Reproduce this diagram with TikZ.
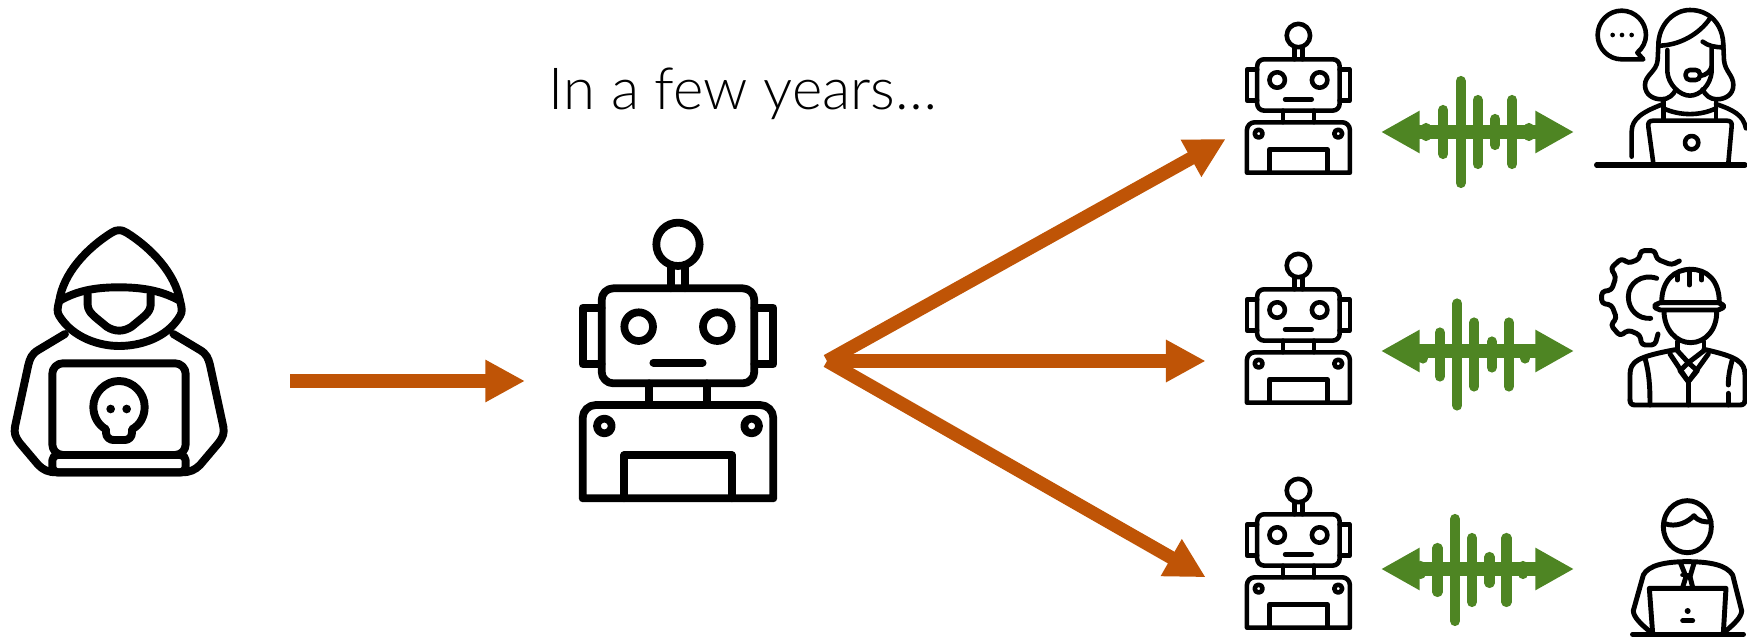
\documentclass[tikz,border=0pt]{standalone}
\usepackage{fontspec}
\setmainfont{Lato}[UprightFont=* Light]
\usetikzlibrary{arrows.meta}
\definecolor{attackorange}{RGB}{191, 84, 6}
\definecolor{voicegreen}{RGB}{78, 133, 35}
\tikzset{
  pics/robot/.style={code={
    \begin{scope}[line width=#1, line join=round, line cap=round]
    % Antenna and head
    \draw (354,103) circle (65);
    \draw (332,170) -- (332,235) (376,170) -- (376,235);
    \draw[rounded corners=1.5*#1] (125,235) rectangle (583,520);
    \draw (125,293) -- (68,293) -- (68,463) -- (125,463);
    \draw (583,293) -- (640,293) -- (640,463) -- (583,463);
    \draw (236,350) circle (43);
    \draw (472,350) circle (43);
    \draw (280,458) -- (428,458);
    % Neck and body
    \draw (268,520) -- (268,585) (440,520) -- (440,585);
    \draw (68,865) [rounded corners=1.7*#1] -- (68,585) -- (640,585) [sharp corners] -- (640,865) -- cycle;
    \draw (133,648) circle (22);
    \draw (575,648) circle (22);
    \draw (193,865) -- (193,735) -- (515,735) -- (515,865);
    \end{scope}
  }},
  pics/hackerman/.style={code={
    \begin{scope}[line width=2.25pt, line join=round, line cap=round]
    % Hood
    \draw (178,272) .. controls (190,190) and (260,115) .. (335,68)
      .. controls (350,58) and (365,58) .. (380,68)
      .. controls (455,115) and (525,190) .. (540,272);
    \draw (183,270) .. controls (240,238) and (300,232) .. (357,232)
      .. controls (420,232) and (480,240) .. (535,270);
    \draw (178,272) .. controls (172,295) and (170,305) .. (178,318)
      .. controls (220,385) and (300,408) .. (357,408)
      .. controls (420,408) and (500,385) .. (540,318)
      .. controls (548,305) and (546,295) .. (540,272);
    \draw (263,252) -- (263,285) .. controls (265,310) and (285,320) .. (320,350)
      .. controls (345,366) and (370,366) .. (395,350)
      .. controls (430,320) and (450,310) .. (452,285) -- (452,252);
    % Body
    \draw (195,372) -- (115,420) .. controls (95,432) and (90,445) .. (85,465)
      -- (45,650) .. controls (42,670) and (45,680) .. (60,700)
      -- (115,765) .. controls (130,780) and (145,787) .. (170,787)
      -- (545,787) .. controls (570,787) and (585,780) .. (600,765)
      -- (655,700) .. controls (670,680) and (673,670) .. (670,650)
      -- (630,465) .. controls (625,445) and (620,432) .. (600,420)
      -- (520,372);
    % Laptop
    \draw[rounded corners=3pt] (157,460) rectangle (557,735);
    \draw[rounded corners=1.5pt] (157,735) rectangle (557,787);
    % Skull
    \draw (318,658) .. controls (295,645) and (280,620) .. (280,590)
      .. controls (280,550) and (315,513) .. (357,513)
      .. controls (400,513) and (434,550) .. (434,590)
      .. controls (434,620) and (420,645) .. (396,658)
      -- (396,668) .. controls (396,682) and (385,690) .. (375,690)
      -- (340,690) .. controls (330,690) and (318,682) .. (318,668) -- cycle;
    \fill (332,597) circle (13);
    \fill (380,597) circle (13);
    \end{scope}
  }},
  pics/voicearrow/.style={code={
    \draw[voicegreen, line width=3.9pt, {Triangle[length=11pt,width=11.3pt]}-{Triangle[length=11pt,width=11.3pt]}] (-96.5,0) -- (96.5,0);
  }},
  pics/voicebars/.style={code={
    \foreach \xbar/\hbar in {-51.5/4, -34.5/22, -17/51, 0/32, 17.5/13, 34.5/32, 51/4}
      \draw[voicegreen, line width=2.9pt, line cap=round] (\xbar,-\hbar) -- (\xbar,\hbar);
  }},
  pics/callagent/.style={code={
    \begin{scope}[line width=1.3pt, line join=round, line cap=round]
    % Speech bubble
    \draw (1240,178) -- (1175,178) .. controls (1135,178) and (1103,145) .. (1103,105)
      .. controls (1103,65) and (1135,32) .. (1175,32)
      .. controls (1215,32) and (1248,65) .. (1248,105)
      .. controls (1248,125) and (1238,145) .. (1222,158) -- cycle;
    \fill (1148,105) circle (7) (1176,105) circle (7) (1205,105) circle (7);
    % Hair and face
    \draw (1285,137) .. controls (1285,75) and (1330,30) .. (1380,30)
      .. controls (1440,30) and (1480,75) .. (1480,137);
    \draw (1285,137) .. controls (1350,137) and (1410,100) .. (1440,55);
    \draw (1418,125) .. controls (1435,138) and (1455,142) .. (1480,142);
    \draw (1285,137) -- (1283,180) .. controls (1280,215) and (1245,225) .. (1245,255)
      .. controls (1245,285) and (1270,298) .. (1295,298) .. controls (1315,298) and (1330,285) .. (1338,268);
    \draw (1480,137) -- (1482,180) .. controls (1485,215) and (1510,225) .. (1510,255)
      .. controls (1510,285) and (1485,298) .. (1460,298) .. controls (1440,298) and (1425,285) .. (1418,268);
    \draw (1312,150) -- (1312,215) .. controls (1315,255) and (1350,287) .. (1380,287)
      .. controls (1410,287) and (1442,255) .. (1445,215) -- (1445,145);
    % Headset
    \draw[rounded corners=1.2pt] (1367,210) rectangle (1410,240);
    \draw (1410,228) .. controls (1430,225) and (1440,215) .. (1445,200);
    % Neck and shoulders
    \draw (1300,305) -- (1300,360) (1458,305) -- (1458,360);
    \draw (1300,325) .. controls (1350,348) and (1410,348) .. (1458,325);
    \draw (1205,470) -- (1205,395) .. controls (1205,355) and (1240,335) .. (1300,312);
    \draw (1458,312) .. controls (1510,330) and (1540,345) .. (1548,385);
    % Laptop
    \draw (1270,490) -- (1255,380) .. controls (1253,368) and (1258,362) .. (1270,362)
      -- (1490,362) .. controls (1502,362) and (1507,368) .. (1505,380) -- (1495,490);
    \draw (1385,428) circle (20);
    \draw[line width=1.5pt] (1100,495) -- (1545,495);
    \end{scope}
  }},
  pics/fieldworker/.style={code={
    \begin{scope}[line width=1.4pt, line join=round, line cap=round]
    % Gear
    \draw[rounded corners=1pt] (358,93) -- (335,105) -- (290,87) -- (285,62) -- (242,62) -- (238,87)
      -- (205,100) -- (185,85) -- (152,115) -- (168,140) -- (155,180) -- (125,185) -- (125,220)
      -- (155,225) -- (170,265) -- (152,285) -- (180,318) -- (205,300) -- (240,315) -- (245,345)
      -- (285,345) -- (294,312);
    \draw (290,145) .. controls (245,130) and (205,160) .. (205,200)
      .. controls (205,240) and (235,268) .. (272,265);
    % Helmet
    \draw (305,218) .. controls (305,150) and (345,118) .. (392,118)
      .. controls (440,118) and (478,150) .. (478,218);
    \draw[rounded corners=1.5pt] (285,218) rectangle (490,240);
    \draw (352,130) -- (352,150) (388,118) -- (388,165) (425,130) -- (425,150);
    % Face
    \draw (312,242) .. controls (312,300) and (350,338) .. (392,338)
      .. controls (435,338) and (472,300) .. (470,242);
    % Neck and body
    \draw (352,335) -- (352,358) (432,335) -- (432,358);
    \draw (210,510) -- (210,435) .. controls (210,395) and (230,380) .. (352,358);
    \draw (432,358) .. controls (530,380) and (555,395) .. (555,435) -- (555,510)
      .. controls (555,520) and (550,525) .. (540,525) -- (225,525)
      .. controls (215,525) and (210,520) .. (210,510);
    \draw (330,372) -- (385,455) -- (445,372);
    \draw (352,362) -- (385,398) -- (432,362);
    \draw (385,398) -- (360,422) -- (385,455) -- (412,422) -- cycle;
    \draw (385,455) -- (385,525);
    \draw (255,385) .. controls (268,430) and (270,470) .. (270,525);
    \draw (518,385) .. controls (510,415) and (505,435) .. (505,465);
    \draw (505,490) -- (505,525);
    \end{scope}
  }},
  pics/officeworker/.style={code={
    \begin{scope}[line width=1.4pt, line join=round, line cap=round]
    % Head
    \draw (382,140) ellipse (72 and 78);
    \draw (312,130) .. controls (350,145) and (385,125) .. (402,107)
      .. controls (415,125) and (435,127) .. (453,125);
    % Body
    \draw (270,455) .. controls (240,430) and (220,410) .. (220,392) -- (250,285)
      .. controls (265,255) and (320,245) .. (380,245)
      .. controls (450,245) and (500,255) .. (518,285) -- (545,392)
      .. controls (545,410) and (525,430) .. (495,455);
    \draw (362,250) -- (378,290) -- (368,322) (402,250) -- (390,290) -- (398,322);
    \draw (368,285) -- (392,285);
    % Laptop
    \draw (278,460) -- (268,325) -- (498,325) -- (490,460);
    \fill (383,393) circle (9);
    \draw (368,422) -- (398,422);
    \draw[line width=1.5pt] (218,463) -- (550,463);
    \end{scope}
  }},
}
\begin{document}
\begin{tikzpicture}[x=0.01cm, y=-0.01cm,
  attack/.style={attackorange, line width=3.8pt, -{Triangle[length=11.3pt,width=11.3pt]}},
]
\useasboundingbox (0,0) rectangle (1747,637);

% Title
\node[font=\fontsize{16.5}{20}\selectfont, text=black] (title) at (743,93.5) {In a few years…};

% Icons
\pic at (0,210) [scale=1/3] {hackerman};
\pic at (560,210) [scale=1/3] {robot=2.2pt};
\pic at (1234.7,17) [scale=0.18] {robot=1.3pt};
\pic at (1234.7,247) [scale=0.18] {robot=1.3pt};
\pic at (1234.7,472) [scale=0.18] {robot=1.3pt};
\pic at (1230,0) [scale=1/3] {callagent};
\pic at (1560,230) [scale=1/3] {fieldworker};
\pic at (1560,480) [scale=1/3] {officeworker};

% Voice links
\pic at (1477.5,132) {voicearrow};
\pic at (1477.7,132) {voicebars};
\pic at (1477.5,351) {voicearrow};
\pic at (1474.3,354.5) {voicebars};
\pic at (1477.5,569) {voicearrow};
\pic at (1472,570) {voicebars};

% Arrow ends
\coordinate (hackerout) at (290,381);
\coordinate (robotin) at (525,381);
\coordinate (robotout) at (827,361);
\coordinate (agenttop) at (1225.7,139);
\coordinate (agentmid) at (1205.7,361);
\coordinate (agentlow) at (1205.7,577.3);

% Arrows
\draw[attack] (hackerout) -- (robotin);
\draw[attack] (robotout) -- (agenttop);
\draw[attack] (robotout) -- (agentmid);
\draw[attack] (robotout) -- (agentlow);
\end{tikzpicture}
\end{document}
